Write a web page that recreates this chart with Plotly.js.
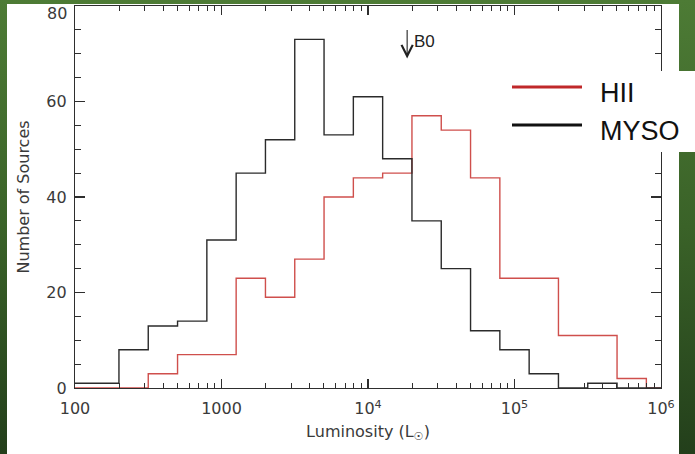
<!DOCTYPE html>
<html>
<head>
<meta charset="utf-8">
<script src="https://cdn.plot.ly/plotly-3.0.1.min.js"></script>
<style>
  html, body { margin: 0; padding: 0; }
  body { width: 695px; height: 454px; position: relative; overflow: hidden;
         background: linear-gradient(to bottom, #4d7b35 0%, #3a6228 50%, #233f1b 100%); }
  #panel { position: absolute; left: 7px; top: 4px; width: 672px; height: 450px; background: #ffffff; }
  #chart { position: absolute; left: 0; top: 0; width: 695px; height: 454px; }
</style>
</head>
<body>
<div id="panel"></div>
<div id="chart"></div>
<script>
// log10 of the lower edge of each luminosity bin (L_sun), width 0.2 dex
const binEdgesLog = [1.9, 2.1, 2.3, 2.5, 2.7, 2.9, 3.1, 3.3, 3.5, 3.7, 3.9, 4.1, 4.3, 4.5, 4.7, 4.9, 5.1, 5.3, 5.5, 5.7, 5.9];
const binWidthLog = 0.2;
// Number of sources per bin
const mysoCounts = [1, 1, 8, 13, 14, 31, 45, 52, 73, 53, 61, 48, 35, 25, 12, 8, 3, 0, 1, 0, 0];
const hiiCounts  = [0, 0, 0, 3, 7, 7, 23, 19, 27, 40, 44, 45, 57, 54, 44, 23, 23, 11, 11, 2, 0];
// Labels
const seriesNames = ['HII', 'MYSO'];
const xTickVals = [100, 1000, 10000, 100000, 1000000];
const xTickText = ['100', '1000', '10<sup>4</sup>', '10<sup>5</sup>', '10<sup>6</sup>'];
const xMinorMultipliers = [2, 3, 4, 5, 6, 7, 8, 9];
const yTickVals = [0, 20, 40, 60, 80];
const yMinorStep = 5;
const b0Luminosity = 1.85e4;
const b0Label = 'B0';

function stepX(edges) {
  const xs = edges.map(e => Math.pow(10, e));
  xs.push(Math.pow(10, edges[edges.length - 1] + binWidthLog));
  return xs;
}
function stepY(counts) {
  const ys = counts.slice();
  ys.push(counts[counts.length - 1]);
  return ys;
}
const xMinor = [];
for (let i = 0; i < xTickVals.length - 1; i++) xMinorMultipliers.forEach(m => xMinor.push(m * xTickVals[i]));
const yMinor = [];
for (let v = 0; v <= 80; v += yMinorStep) if (yTickVals.indexOf(v) < 0) yMinor.push(v);
const yTopIdx = yTickVals.length - 1;
// top label is drawn as an annotation slightly below the frame (as in the original)
const yTickText = yTickVals.map((v, i) => i === yTopIdx ? '' : String(v));

const colRed = '#cf4f4c';
const colBlack = '#2b2b2b';
const axisCol = '#2e2e2e';
const tickFont = { family: 'DejaVu Sans', size: 16, color: '#3a3a3a' };

const traces = [
  { x: stepX(binEdgesLog), y: stepY(hiiCounts), type: 'scatter', mode: 'lines',
    line: { shape: 'hv', color: colRed, width: 1.4 }, name: seriesNames[0], showlegend: false },
  { x: stepX(binEdgesLog), y: stepY(mysoCounts), type: 'scatter', mode: 'lines',
    line: { shape: 'hv', color: colBlack, width: 1.4 }, name: seriesNames[1], showlegend: false },
  { x: [], y: [], xaxis: 'x2', yaxis: 'y2', type: 'scatter', mode: 'lines', showlegend: false, hoverinfo: 'skip' }
];

// pixel helpers for legend decorations (paper coords)
const L = 75, R = 661, T = 6, B = 388;
const px = v => (v - L) / (R - L);
const py = v => (B - v) / (B - T);

const layout = {
  width: 695, height: 454,
  margin: { l: L, r: 695 - R, t: T, b: 454 - B },
  paper_bgcolor: 'rgba(0,0,0,0)',
  plot_bgcolor: 'rgba(0,0,0,0)',
  showlegend: false,
  xaxis: {
    type: 'log', range: [2, 6],
    tickmode: 'array', tickvals: xTickVals, ticktext: xTickText,
    ticks: 'inside', ticklen: 9, tickwidth: 1.2, tickcolor: axisCol,
    showline: true, linecolor: axisCol, linewidth: 1.2, mirror: 'ticks',
    showgrid: false, zeroline: false, ticklabeloverflow: 'allow',
    tickfont: tickFont, ticklabelstandoff: 6,
    title: { text: 'Luminosity (L<sub>☉</sub>)', font: { family: 'DejaVu Sans', size: 16, color: '#3a3a3a' }, standoff: 8 }
  },
  xaxis2: {
    type: 'log', range: [2, 6], overlaying: 'x', anchor: 'y', side: 'bottom',
    tickmode: 'array', tickvals: xMinor, showticklabels: false,
    ticks: 'inside', ticklen: 5, tickwidth: 1, tickcolor: axisCol,
    showline: false, mirror: 'ticks', showgrid: false, zeroline: false
  },
  yaxis: {
    range: [0, 80], tickmode: 'array', tickvals: yTickVals, ticktext: yTickText,
    ticks: 'inside', ticklen: 10, tickwidth: 1.2, tickcolor: axisCol,
    showline: true, linecolor: axisCol, linewidth: 1.2, mirror: 'ticks',
    showgrid: false, zeroline: false, ticklabeloverflow: 'allow',
    tickfont: tickFont, ticklabelstandoff: 4,
    title: { text: 'Number of Sources', font: { family: 'DejaVu Sans', size: 16, color: '#3a3a3a' }, standoff: 12 }
  },
  yaxis2: {
    range: [0, 80], overlaying: 'y', anchor: 'x', side: 'left',
    tickmode: 'array', tickvals: yMinor, showticklabels: false,
    ticks: 'inside', ticklen: 6, tickwidth: 1, tickcolor: axisCol,
    showline: false, mirror: 'ticks', showgrid: false, zeroline: false
  },
  shapes: [
    { type: 'rect', xref: 'paper', yref: 'paper', x0: px(490), x1: px(700), y0: py(152), y1: py(71),
      fillcolor: '#ffffff', line: { width: 0 }, layer: 'above' },
    { type: 'line', xref: 'paper', yref: 'paper', x0: px(512), x1: px(582), y0: py(87), y1: py(87),
      line: { color: '#c0282a', width: 3 }, layer: 'above' },
    { type: 'line', xref: 'paper', yref: 'paper', x0: px(512), x1: px(582), y0: py(125), y1: py(125),
      line: { color: '#111111', width: 3 }, layer: 'above' }
  ],
  annotations: [
    { xref: 'paper', yref: 'y', x: 0, y: yTickVals[yTopIdx], xanchor: 'right', yanchor: 'middle',
      xshift: -6, yshift: -7, text: String(yTickVals[yTopIdx]), showarrow: false, font: tickFont },
    { xref: 'paper', yref: 'paper', x: px(598), y: py(93), xanchor: 'left', yanchor: 'middle',
      text: seriesNames[0], showarrow: false, font: { family: 'Liberation Sans', size: 27, color: '#111' } },
    { xref: 'paper', yref: 'paper', x: px(598), y: py(131), xanchor: 'left', yanchor: 'middle',
      text: seriesNames[1], showarrow: false, font: { family: 'Liberation Sans', size: 27, color: '#111' } },
    { x: Math.log10(b0Luminosity), y: 69, xref: 'x', yref: 'y', text: '', showarrow: true,
      ax: 0, ay: -30, arrowhead: 5, arrowsize: 2, arrowwidth: 1.1, arrowcolor: '#222' },
    { x: Math.log10(b0Luminosity), y: 72.5, xref: 'x', yref: 'y', xshift: 5, xanchor: 'left', yanchor: 'middle',
      text: b0Label, showarrow: false, font: { family: 'Liberation Sans', size: 17, color: '#222' } }
  ]
};

Plotly.newPlot('chart', traces, layout, { staticPlot: true, displayModeBar: false });
</script>
</body>
</html>
